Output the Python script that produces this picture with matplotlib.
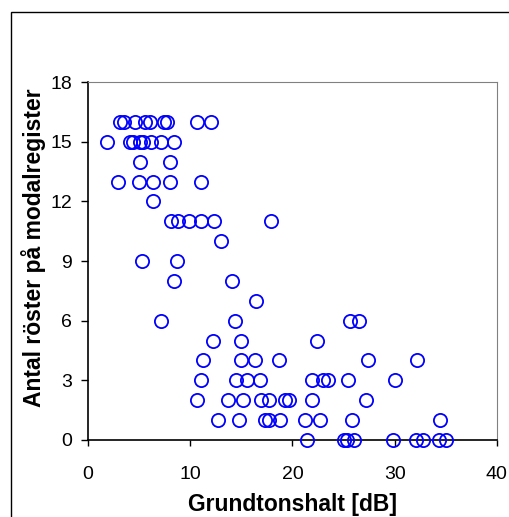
import matplotlib
matplotlib.use('Agg')
import matplotlib.pyplot as plt
from matplotlib.patches import Rectangle

plt.rcParams['font.family'] = ['Liberation Sans', 'DejaVu Sans']

# Grundtonshalt [dB] per row of equal y-value
x16 = [3.1, 3.5, 4.6, 5.6, 6.1, 7.4, 7.7, 10.7, 12.0]
x15 = [1.9, 4.1, 4.4, 5.1, 5.4, 6.2, 7.1, 8.4]
x14 = [5.1, 8.0]
x13 = [2.9, 5.0, 6.4, 8.0, 11.1]
x12 = [6.4]
x11 = [8.1, 8.8, 9.9, 11.1, 12.3, 17.9]
x10 = [13.0]
x9 = [5.3, 8.7]
x8 = [8.4, 14.05]
x7 = [16.4]
x6 = [7.1, 14.4, 25.6, 26.5]
x5 = [12.2, 15.0, 22.4]
x4 = [11.2, 15.0, 16.3, 18.7, 27.4, 32.2]
x3 = [11.05, 14.5, 15.6, 16.8, 21.9, 23.0, 23.5, 25.4, 30.0]
x2 = [10.7, 13.7, 15.2, 16.9, 17.7, 19.3, 19.7, 21.9, 27.2]
x1 = [12.7, 14.8, 17.3, 17.7, 18.8, 21.2, 22.7, 25.8, 34.4]
x0 = [21.4, 25.0, 25.3, 26.0, 29.8, 32.1, 32.8, 34.3, 35.0]

rows = {16: x16, 15: x15, 14: x14, 13: x13, 12: x12, 11: x11, 10: x10,
        9: x9, 8: x8, 7: x7, 6: x6, 5: x5, 4: x4, 3: x3, 2: x2, 1: x1, 0: x0}

xs = []
ys = []
for yv, xl in rows.items():
    for xv in xl:
        xs.append(xv)
        ys.append(yv)

fig = plt.figure(figsize=(5.09, 5.17), dpi=100)
ax = fig.add_axes([0.173, 0.149, 0.803, 0.692])

ax.plot(xs, ys, linestyle='none', marker='o', markersize=9.5,
        markerfacecolor='none', markeredgecolor='#0000ff',
        markeredgewidth=1.3, clip_on=False, zorder=3)

ax.set_xlim(0, 40)
ax.set_ylim(0, 18)
ax.set_xticks([0, 10, 20, 30, 40])
ax.set_yticks([0, 3, 6, 9, 12, 15, 18])
ax.tick_params(axis='x', direction='out', length=4, width=1, labelsize=14, pad=15)
ax.tick_params(axis='y', direction='out', length=5, width=1, labelsize=14, pad=6.5)

ax.spines['left'].set_linewidth(1.2)
ax.spines['bottom'].set_linewidth(1.2)
ax.spines['top'].set_color('#808080')
ax.spines['right'].set_color('#808080')

ax.set_xlabel('Grundtonshalt [dB]', fontsize=16.5, fontweight='bold')
ax.set_ylabel('Antal röster på modalregister', fontsize=16.5, fontweight='bold')
ax.xaxis.set_label_coords(0.501, -0.147)
ax.yaxis.set_label_coords(-0.103, 0.538)

# outer chart frame (cropped by the image edge)
fig.patches.append(Rectangle((10.7 / 509, -0.1), 1.2, (517 - 11.7) / 517 + 0.1,
                             transform=fig.transFigure, fill=False,
                             edgecolor='black', linewidth=1.0))

fig.savefig('out.png', dpi=100)
